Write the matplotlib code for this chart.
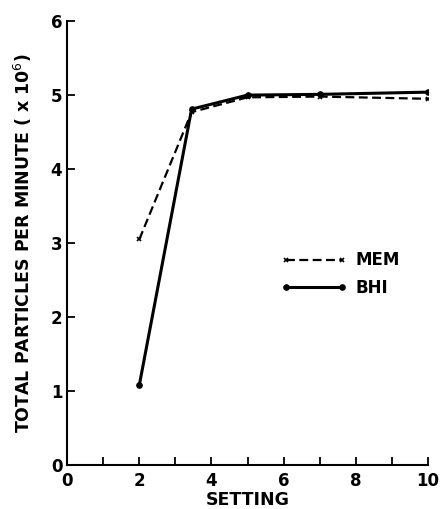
import numpy as np
import matplotlib.pyplot as plt
import matplotlib.ticker as ticker

setting = [2, 3.45, 5, 7, 10]
mem = [3.05, 4.77, 4.97, 4.98, 4.95]
bhi = [1.08, 4.81, 5.0, 5.01, 5.04]

fig = plt.figure(figsize=(4.42, 5.09), dpi=100)
ax = fig.add_axes([0.152, 0.0865, 0.816, 0.872])

ax.plot(setting, mem, color='k', ls=(0, (4, 2)), lw=1.6, marker='x', ms=3.5, mew=1.2,
        label='MEM')
ax.plot(setting, bhi, color='k', ls='-', lw=2.2, marker='o', ms=3.8, label='BHI')

ax.set_xlim(0, 10)
ax.set_ylim(0, 6)
ax.xaxis.set_major_locator(ticker.MultipleLocator(2))
ax.xaxis.set_minor_locator(ticker.MultipleLocator(1))
ax.yaxis.set_major_locator(ticker.MultipleLocator(1))
ax.tick_params(which='both', direction='in', width=1.3, length=6, labelsize=12)
ax.tick_params(axis='x', pad=5)
for lab in ax.get_xticklabels() + ax.get_yticklabels():
    lab.set_fontweight('bold')
for s in ['top', 'right']:
    ax.spines[s].set_visible(False)
for s in ['left', 'bottom']:
    ax.spines[s].set_linewidth(1.5)

ax.set_xlabel('SETTING', fontsize=12.5, fontweight='bold', labelpad=1)
ax.set_ylabel('TOTAL PARTICLES PER MINUTE ( x 10$^{6}$)', fontsize=12.5, fontweight='bold',
              labelpad=12)

ax.legend(loc='upper left', bbox_to_anchor=(0.55, 0.515), frameon=False, handlelength=4,
          handletextpad=0.5, numpoints=2, prop={'weight': 'bold', 'size': 12},
          labelspacing=0.55)

plt.savefig('out.png')
